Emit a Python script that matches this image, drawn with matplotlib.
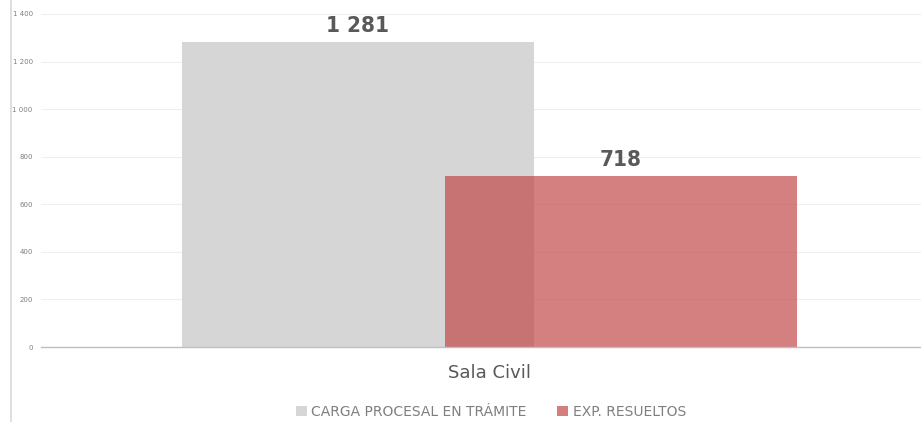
import matplotlib
matplotlib.use("Agg")
import matplotlib.pyplot as plt
from matplotlib.lines import Line2D
from matplotlib.patches import Patch
from matplotlib.ticker import FuncFormatter

categories = ["Sala Civil"]
series_names = ["CARGA PROCESAL EN TRÁMITE", "EXP. RESUELTOS"]
carga = [1281]
resueltos = [718]
yticks = [0, 200, 400, 600, 800, 1000, 1200, 1400]

def fmt(v, pos=None):
    return f"{int(v):,}".replace(",", " ")

fig = plt.figure(figsize=(9.21, 4.22), dpi=100)
W, H = 921, 422
ax = fig.add_axes([41 / W, 75 / H, (921 - 41) / W, (347 - 14) / H])

width = 1.0
off = 0.3736
x0 = 0
ax.bar([x0 - off], carga, width=width, color="#d6d6d6", zorder=2)
ax.bar([x0 + off], resueltos, width=width, color="#c34a4a", alpha=0.7, zorder=3)

for xs, vals in ((x0 - off, carga), (x0 + off, resueltos)):
    ax.text(xs, vals[0] + 28, fmt(vals[0]), ha="center", va="bottom",
            fontsize=16, fontweight="bold", color="#595959",
            family="DejaVu Sans", fontstretch="condensed", zorder=4)

ax.set_xlim(-1.274, 1.226)
ax.set_ylim(0, 1400)
ax.set_yticks(yticks)
ax.yaxis.set_major_formatter(FuncFormatter(fmt))
ax.tick_params(axis="y", length=0, labelsize=5, labelcolor="#7f7f7f", pad=6)
ax.set_xticks([x0])
ax.set_xticklabels(categories, fontsize=13, color="#595959")
ax.tick_params(axis="x", length=0, pad=12)
ax.grid(axis="y", color="#efefef", linewidth=0.8, zorder=0)
for s in ("top", "right", "left"):
    ax.spines[s].set_visible(False)
ax.spines["bottom"].set_color("#bfbfbf")
ax.spines["bottom"].set_linewidth(1)
ax.spines["bottom"].set_zorder(5)

fig.add_artist(Line2D([10.5 / W, 10.5 / W], [0, 1], color="#d9d9d9", linewidth=1.2))

handles = [Patch(facecolor="#d6d6d6", edgecolor="none"),
           Patch(facecolor="#d47f7e", edgecolor="none")]
fig.legend(handles, series_names, loc="center", bbox_to_anchor=(491 / W, 1 - 412 / H),
           ncol=2, frameon=False, fontsize=10, labelcolor="#7f7f7f",
           handlelength=0.8, handleheight=0.8, handletextpad=0.3, columnspacing=2.2)

fig.savefig("out.png", dpi=100)
